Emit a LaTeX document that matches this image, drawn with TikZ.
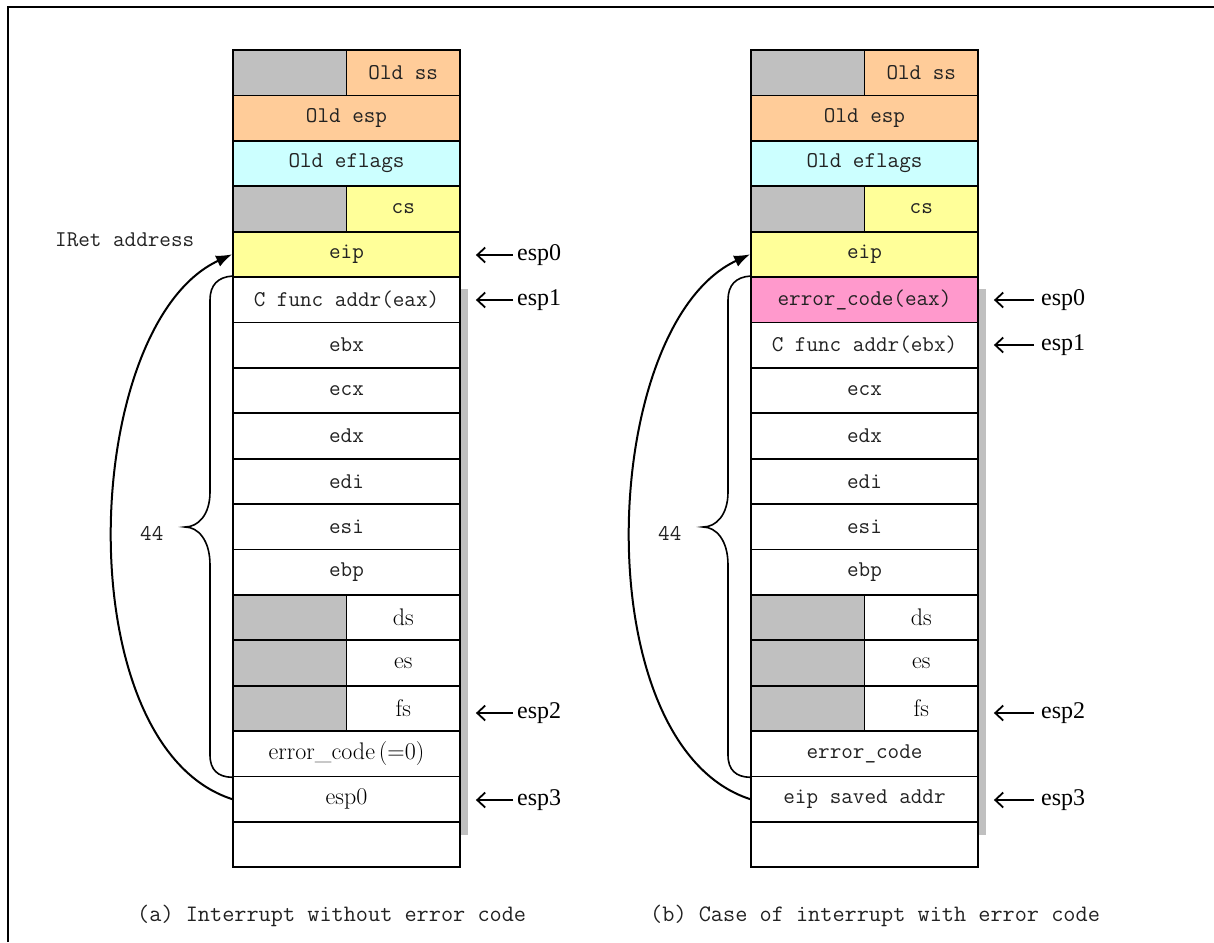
\documentclass[tikz,border=0pt]{standalone}
\usepackage{fontspec}
\usetikzlibrary{arrows.meta}
\newfontfamily\tnr{Liberation Serif}
\definecolor{orng}{HTML}{FFCC99}
\definecolor{cyn}{HTML}{CCFFFF}
\definecolor{yel}{HTML}{FFFF99}
\definecolor{pnk}{HTML}{FF99CC}
\definecolor{padgray}{HTML}{C0C0C0}
\definecolor{txt}{HTML}{222222}
\newcommand{\monofont}{\ttfamily\fontsize{22.5}{25}\selectfont}
\newcommand{\serfont}{\color{black}\rmfamily\fontsize{24}{26}\selectfont}
\tikzset{
  cell/.style={draw, line width=1.8pt, minimum width=227pt, minimum height=45.4pt,
    inner sep=0pt, font=\monofont, text=txt},
  half/.style={cell, minimum width=113.5pt},
  pad/.style={half, fill=padgray},
  lbl/.style={font=\tnr\fontsize{24}{26}\selectfont, anchor=west, inner sep=0pt},
  mlbl/.style={font=\monofont, text=txt, anchor=west, inner sep=0pt},
  clbl/.style={font=\ttfamily\fontsize{23.6}{25}\selectfont, text=txt, anchor=west, inner sep=0pt},
  ptr/.style={line width=1.8pt, -{Straight Barb[length=8pt,width=15pt,line width=1.8pt]}},
  loop/.style={line width=2pt, -{Latex[length=16pt,width=12pt]}},
  brc/.style={line width=1.6pt},
  shadow/.style={fill=padgray, draw=none}
}
\begin{document}
\begin{tikzpicture}[x=1pt,y=-1pt]
\useasboundingbox (0,0) rectangle (1214,942);
% outer frame (right and bottom sides lie outside the picture)
\draw[line width=2pt] (7.5,942) -- (7.5,7.5) -- (1214,7.5);
% shadows
\fill[shadow] (460,289) rectangle (468,835);
\fill[shadow] (978,289) rectangle (986,835);
% left stack
\foreach \i/\t/\c/\s in {
  0/{Old ss}/orng/1, 1/{Old esp}/orng/0, 2/{Old eflags}/cyn/0, 3/{cs}/yel/1,
  4/{eip}/yel/0, 5/{C func addr(eax)}/white/0, 6/{ebx}/white/0, 7/{ecx}/white/0,
  8/{edx}/white/0, 9/{edi}/white/0, 10/{esi}/white/0, 11/{ebp}/white/0,
  12/{\serfont ds}/white/1, 13/{\serfont es}/white/1, 14/{\serfont fs}/white/1,
  15/{\serfont error\_code\,(=0)}/white/0, 16/{\serfont esp0}/white/0, 17/{}/white/0}{
  \ifnum\s=1
    \node[pad] (Lg\i) at (289.75,{50+45.4*(\i+0.5)}) {};
    \node[half, fill=\c] (L\i) at (403.25,{50+45.4*(\i+0.5)}) {\t};
  \else
    \node[cell, fill=\c] (L\i) at (346.5,{50+45.4*(\i+0.5)}) {\t};
  \fi
}
% right stack
\foreach \i/\t/\c/\s in {
  0/{Old ss}/orng/1, 1/{Old esp}/orng/0, 2/{Old eflags}/cyn/0, 3/{cs}/yel/1,
  4/{eip}/yel/0, 5/{error\_code(eax)}/pnk/0, 6/{C func addr(ebx)}/white/0, 7/{ecx}/white/0,
  8/{edx}/white/0, 9/{edi}/white/0, 10/{esi}/white/0, 11/{ebp}/white/0,
  12/{\serfont ds}/white/1, 13/{\serfont es}/white/1, 14/{\serfont fs}/white/1,
  15/{error\_code}/white/0, 16/{eip saved addr}/white/0, 17/{}/white/0}{
  \ifnum\s=1
    \node[pad] (Rg\i) at (807.75,{50+45.4*(\i+0.5)}) {};
    \node[half, fill=\c] (R\i) at (921.25,{50+45.4*(\i+0.5)}) {\t};
  \else
    \node[cell, fill=\c] (R\i) at (864.5,{50+45.4*(\i+0.5)}) {\t};
  \fi
}
% pointer labels, left
\node[lbl] (la0) at (517,255) {esp0};
\node[lbl] (la1) at (517,300) {esp1};
\node[lbl] (la2) at (517,713) {esp2};
\node[lbl] (la3) at (517,800) {esp3};
\draw[ptr] ([xshift=-4pt]la0.west) -- ([xshift=15pt]L4.east |- la0.west);
\draw[ptr] ([xshift=-4pt]la1.west) -- ([xshift=15pt]L5.east |- la1.west);
\draw[ptr] ([xshift=-4pt]la2.west) -- ([xshift=15pt]L14.east |- la2.west);
\draw[ptr] ([xshift=-4pt]la3.west) -- ([xshift=15pt]L16.east |- la3.west);
% pointer labels, right
\node[lbl] (ra0) at (1041,300) {esp0};
\node[lbl] (ra1) at (1041,345) {esp1};
\node[lbl] (ra2) at (1041,713) {esp2};
\node[lbl] (ra3) at (1041,800) {esp3};
\draw[ptr] ([xshift=-7pt]ra0.west) -- ([xshift=15pt]R5.east |- ra0.west);
\draw[ptr] ([xshift=-7pt]ra1.west) -- ([xshift=15pt]R6.east |- ra1.west);
\draw[ptr] ([xshift=-7pt]ra2.west) -- ([xshift=15pt]R14.east |- ra2.west);
\draw[ptr] ([xshift=-7pt]ra3.west) -- ([xshift=15pt]R16.east |- ra3.west);
% braces
\draw[brc] (L5.north west) .. controls (218,277) and (210,285) .. (210,300)
  -- (210,492) .. controls (210,515) and (198,527) .. (185,527)
  .. controls (198,527) and (210,540) .. (210,565)
  -- (210,755) .. controls (210,770) and (218,777) .. (L15.south west);
\draw[brc] (R5.north west) .. controls (736,277) and (728,285) .. (728,300)
  -- (728,492) .. controls (728,515) and (716,527) .. (703,527)
  .. controls (716,527) and (728,540) .. (728,565)
  -- (728,755) .. controls (728,770) and (736,777) .. (R15.south west);
% return arrows
\draw[loop] (L16.west) .. controls (65,745) and (80,325) .. (L4.west);
\draw[loop] (R16.west) .. controls (583,745) and (598,325) .. (R4.west);
% texts
\node[mlbl] (iret) at (55,240) {IRet address};
\node[mlbl] (n44a) at (140,533) {44};
\node[mlbl] (n44b) at (658,533) {44};
\node[clbl] (capa) at (137,916) {(a) Interrupt without error code};
\node[clbl] (capb) at (650,916) {(b) Case of interrupt with error code};
\end{tikzpicture}
\end{document}
